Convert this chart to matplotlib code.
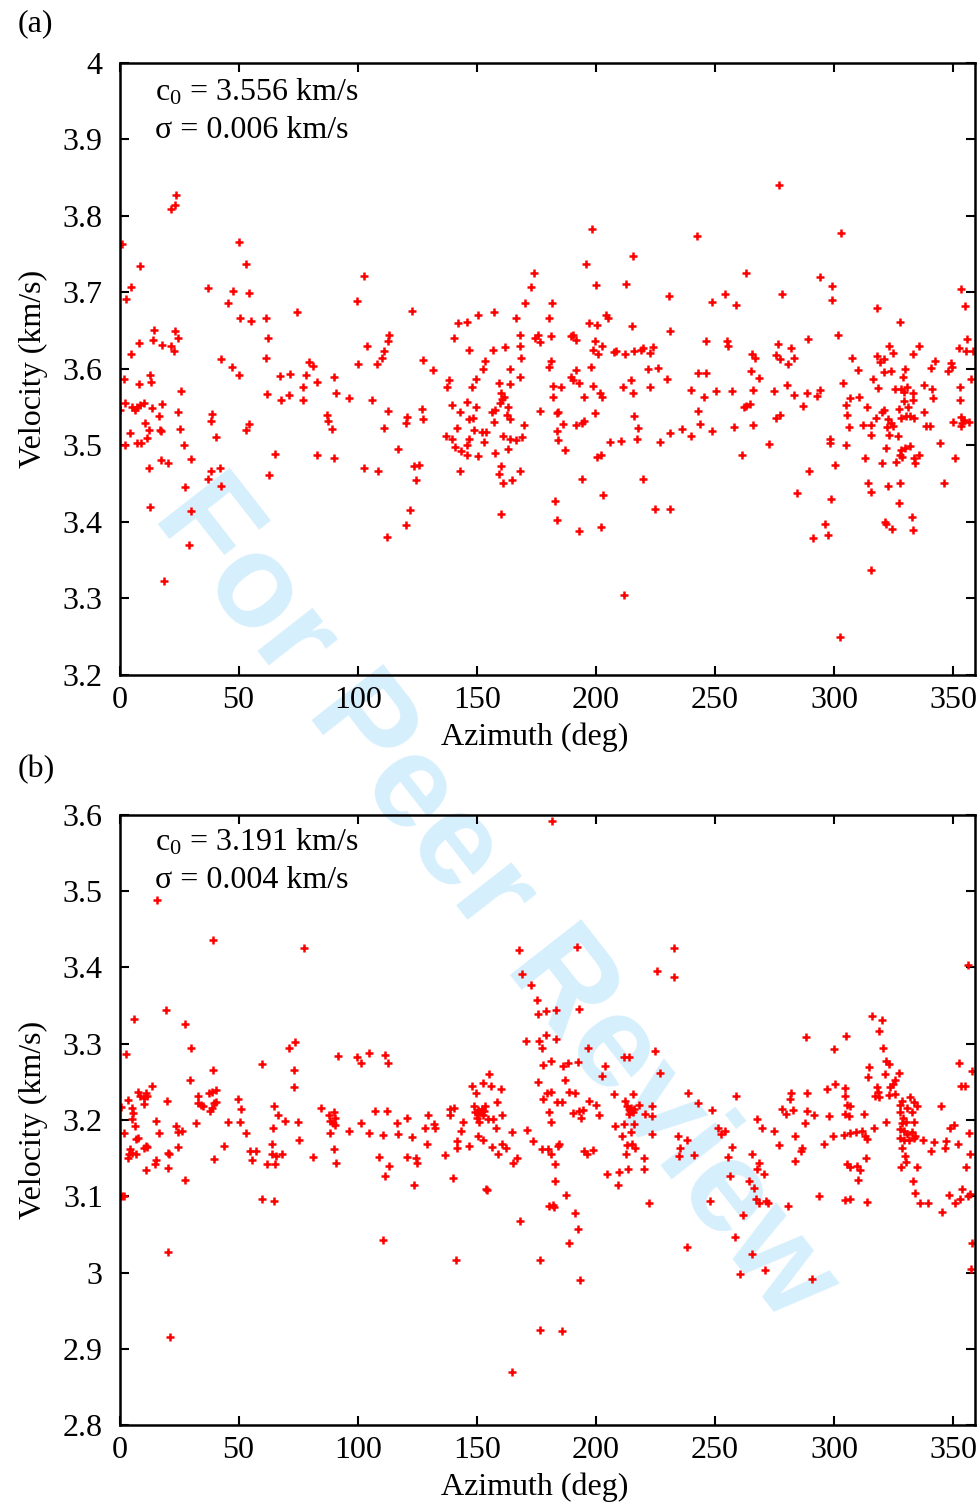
import numpy as np
import matplotlib
matplotlib.use("Agg")
import matplotlib.pyplot as plt

plt.rcParams['font.family'] = ['Liberation Serif', 'DejaVu Serif']
plt.rcParams['mathtext.fontset'] = 'custom'
plt.rcParams['mathtext.rm'] = 'Liberation Serif'
plt.rcParams['mathtext.it'] = 'Liberation Serif:italic'

# === data: panel (a) ===
az_a = [
    # 0-90 deg
    23.8, 23.1, 21.8, 1.0, 50.3, 53.2, 8.4, 5.0, 37.0, 47.5,
    54.3, 2.9, 45.5, 74.4, 50.7, 55.4, 61.6, 14.5, 23.1, 8.0,
    14.0, 18.0, 24.4, 21.4, 22.7, 5.0, 62.2, 42.4, 47.2, 50.1,
    61.3, 1.8, 12.7, 13.4, 8.1, 67.5, 71.4, 79.7, 81.2, 78.4,
    82.8, 25.6, 61.9, 68.0, 71.1, 76.9, 77.2, 2.5,
    0.4, 5.3, 6.7, 7.4, 8.4, 10.1, 13.7, 17.8, 16.5, 24.4,
    38.9, 38.4, 54.3, 52.9, 10.6, 4.6, 12.3, 16.9, 17.5, 25.3,
    40.6, 87.2, 87.4, 2.1, 7.4, 8.9, 11.5, 27.0, 17.5,
    20.3, 30.0, 12.2, 65.2, 82.9, 38.6, 42.3, 37.2, 42.8,
    62.9, 27.6, 13.0, 30.1, 29.3, 18.7,
    # 90-180 deg
    102.6, 99.6, 122.9, 173.9, 172.7, 170.4, 157.2, 150.3, 142.1, 145.7,
    166.3, 140.4, 146.7, 157.0, 161.7, 113.1, 112.8, 104.1, 111.2, 110.4,
    108.3, 100.3, 127.5, 131.7, 153.4, 152.4, 163.8, 168.1, 168.0, 168.7,
    168.3, 174.4, 175.8, 176.7, 90.0, 90.9, 96.4, 106.2, 138.4, 137.4,
    149.5, 147.8, 159.3, 163.9, 139.5, 143.0, 145.8, 149.8, 146.7, 148.6,
    157.6, 156.5, 160.0, 160.4, 161.4, 159.6, 163.3, 162.8, 164.1, 157.3,
    169.9, 176.7, 112.8, 120.5, 120.2, 127.1, 127.4, 111.1, 89.4, 141.5,
    137.0, 139.5, 140.7, 143.3, 145.7, 146.8, 148.9, 152.1, 153.8, 153.0,
    145.7, 150.7, 157.6, 160.8, 164.1, 166.4, 168.8, 163.3, 90.0, 117.0,
    102.8, 108.4, 123.7, 125.7, 124.4, 142.8, 160.1, 159.4, 161.1, 164.6,
    168.1, 121.8, 120.2, 112.4, 160.0,
    # 180-270 deg
    198.3, 242.4, 215.7, 195.8, 263.0, 199.9, 212.8, 230.8, 254.1, 248.7,
    258.7, 181.7, 180.4, 204.1, 205.1, 196.9, 200.4, 215.1, 181.2, 189.4,
    190.3, 191.6, 231.2, 199.6, 202.5, 198.7, 200.7, 207.4, 208.4, 212.1,
    215.8, 219.1, 219.9, 223.8, 222.8, 246.2, 255.2, 255.3, 265.4, 266.8,
    181.0, 180.5, 191.5, 197.9, 222.0, 226.2, 230.0, 243.0, 246.1, 265.3,
    268.4, 189.4, 190.2, 192.9, 182.2, 185.2, 182.2, 195.2, 198.6, 201.8,
    202.4, 211.2, 214.7, 215.7, 222.7, 240.1, 245.5, 250.6, 257.2, 266.1,
    184.2, 183.5, 199.7, 216.0, 243.0, 263.2, 262.3, 264.6, 186.3, 183.8,
    191.5, 194.1, 195.2, 217.7, 243.6, 236.0, 231.1, 240.1, 248.6, 258.1,
    265.8, 184.0, 187.0, 205.9, 210.5, 217.2, 226.8, 200.3, 202.1, 261.2,
    194.0, 219.9, 182.8, 203.1, 224.7, 231.1, 183.6, 192.9, 202.1, 211.8,
    # 270-360 deg
    276.9, 302.9, 293.9, 299.3, 278.3, 299.3, 353.2, 355.0, 318.0, 327.7,
    301.5, 288.9, 276.3, 281.8, 355.7, 275.7, 277.3, 283.2, 280.8, 307.7,
    323.2, 324.6, 335.5, 333.0, 318.2, 319.3, 320.8, 352.6, 355.2, 358.2,
    310.1, 321.1, 323.8, 329.8, 342.4, 340.9, 348.9, 349.4, 348.0, 357.7,
    274.9, 280.1, 283.2, 288.5, 292.8, 294.2, 303.6, 316.2, 318.5,
    328.8, 325.6, 328.3, 330.5, 329.5, 333.2, 337.6, 341.3, 341.4, 352.9,
    352.8, 286.8, 305.0, 306.8, 310.3, 313.8, 329.5, 333.3, 327.1, 331.2,
    320.8, 320.1, 275.5, 277.1, 305.4, 306.4, 312.3, 315.4, 315.4, 317.5,
    322.7, 324.1, 322.2, 324.8, 323.2, 326.7, 328.1, 330.4, 331.8, 333.7,
    337.6, 338.5, 340.3, 349.8, 353.1, 353.8, 354.7, 356.8, 353.1, 272.7,
    298.2, 298.4, 305.2, 322.0, 328.1, 329.8, 331.8, 327.6, 328.7, 335.5,
    333.4, 334.1, 325.9, 320.1, 313.0, 344.5, 350.7, 289.3, 300.3, 314.4,
    315.4, 322.5, 327.6, 327.4, 346.3, 284.3, 298.6, 332.9, 321.4, 322.0,
    324.3, 333.3, 296.3, 297.3, 291.0, 315.5, 302.6,
]
vel_a = [
    3.827, 3.815, 3.809, 3.763, 3.766, 3.737, 3.734, 3.707, 3.706, 3.702,
    3.699, 3.692, 3.686, 3.674, 3.667, 3.663, 3.666, 3.651, 3.650, 3.634,
    3.638, 3.631, 3.640, 3.630, 3.624, 3.620, 3.640, 3.613, 3.603, 3.592,
    3.614, 3.587, 3.592, 3.583, 3.580, 3.591, 3.594, 3.609, 3.604, 3.592,
    3.583, 3.571, 3.567, 3.560, 3.566, 3.576, 3.560, 3.556,
    3.546, 3.550, 3.547, 3.550, 3.553, 3.556, 3.549, 3.554, 3.539, 3.544,
    3.541, 3.532, 3.528, 3.520, 3.530, 3.516, 3.520, 3.520, 3.519, 3.522,
    3.511, 3.540, 3.532, 3.500, 3.503, 3.503, 3.510, 3.500, 3.481,
    3.477, 3.482, 3.470, 3.489, 3.488, 3.466, 3.470, 3.456, 3.447,
    3.461, 3.446, 3.420, 3.414, 3.370, 3.323,
    3.722, 3.689, 3.676, 3.726, 3.707, 3.686, 3.675, 3.670, 3.660, 3.661,
    3.666, 3.641, 3.625, 3.625, 3.629, 3.644, 3.637, 3.630, 3.624, 3.615,
    3.607, 3.607, 3.612, 3.599, 3.610, 3.600, 3.600, 3.644, 3.630, 3.615,
    3.589, 3.640, 3.644, 3.635, 3.590, 3.569, 3.562, 3.559, 3.586, 3.577,
    3.587, 3.577, 3.582, 3.581, 3.553, 3.544, 3.557, 3.550, 3.534, 3.536,
    3.547, 3.544, 3.569, 3.561, 3.563, 3.556, 3.550, 3.540, 3.534, 3.531,
    3.527, 3.545, 3.545, 3.537, 3.529, 3.548, 3.535, 3.523, 3.521, 3.523,
    3.513, 3.508, 3.498, 3.493, 3.501, 3.508, 3.520, 3.517, 3.518, 3.505,
    3.488, 3.486, 3.490, 3.512, 3.509, 3.507, 3.511, 3.495, 3.484, 3.495,
    3.470, 3.467, 3.473, 3.474, 3.455, 3.467, 3.473, 3.463, 3.451, 3.455,
    3.467, 3.416, 3.396, 3.380, 3.410,
    3.783, 3.774, 3.748, 3.737, 3.726, 3.710, 3.711, 3.695, 3.698, 3.687,
    3.684, 3.686, 3.666, 3.671, 3.666, 3.660, 3.658, 3.656, 3.643, 3.643,
    3.645, 3.638, 3.650, 3.637, 3.630, 3.625, 3.620, 3.622, 3.624, 3.619,
    3.623, 3.625, 3.627, 3.629, 3.621, 3.637, 3.637, 3.630, 3.620, 3.614,
    3.611, 3.602, 3.599, 3.603, 3.600, 3.601, 3.587, 3.595, 3.595, 3.598,
    3.588, 3.589, 3.585, 3.582, 3.578, 3.576, 3.563, 3.563, 3.578, 3.568,
    3.564, 3.577, 3.585, 3.569, 3.577, 3.573, 3.563, 3.571, 3.571, 3.572,
    3.544, 3.542, 3.543, 3.539, 3.545, 3.551, 3.550, 3.554, 3.528, 3.519,
    3.527, 3.530, 3.532, 3.523, 3.528, 3.522, 3.516, 3.512, 3.519, 3.524,
    3.527, 3.507, 3.494, 3.505, 3.506, 3.508, 3.505, 3.485, 3.488, 3.487,
    3.456, 3.456, 3.427, 3.435, 3.417, 3.417, 3.403, 3.388, 3.394, 3.305,
    3.840, 3.778, 3.720, 3.708, 3.698, 3.690, 3.704, 3.682, 3.680, 3.661,
    3.644, 3.639, 3.633, 3.628, 3.639, 3.618, 3.613, 3.614, 3.607, 3.614,
    3.630, 3.621, 3.630, 3.620, 3.617, 3.609, 3.613, 3.627, 3.623, 3.623,
    3.599, 3.596, 3.597, 3.600, 3.610, 3.601, 3.608, 3.603, 3.598, 3.587,
    3.571, 3.579, 3.566, 3.568, 3.565, 3.572, 3.582, 3.587, 3.575,
    3.589, 3.574, 3.574, 3.577, 3.570, 3.568, 3.579, 3.574, 3.562, 3.577,
    3.560, 3.551, 3.553, 3.562, 3.564, 3.550, 3.558, 3.560, 3.548, 3.550,
    3.546, 3.544, 3.536, 3.540, 3.540, 3.524, 3.527, 3.527, 3.514, 3.536,
    3.535, 3.530, 3.524, 3.525, 3.514, 3.512, 3.536, 3.539, 3.539, 3.536,
    3.544, 3.525, 3.526, 3.531, 3.537, 3.530, 3.533, 3.531, 3.525, 3.502,
    3.509, 3.503, 3.500, 3.497, 3.494, 3.497, 3.499, 3.488, 3.485, 3.487,
    3.483, 3.477, 3.479, 3.477, 3.483, 3.503, 3.484, 3.467, 3.474, 3.451,
    3.439, 3.447, 3.451, 3.425, 3.451, 3.438, 3.430, 3.407, 3.400, 3.397,
    3.391, 3.390, 3.397, 3.383, 3.379, 3.337, 3.250,
]

# === data: panel (b) ===
az_b = [
    # 0-90 deg
    15.7, 39.1, 77.5, 19.5, 6.1, 27.4, 30.2, 2.7, 71.3, 73.7,
    73.3, 73.3, 59.8, 39.4, 29.7, 13.5, 3.4, 7.8, 8.6, 10.1,
    11.0, 11.7, 10.1, 0.5, 5.4, 5.8, 5.1, 6.5, 1.9, 15.2,
    16.4, 20.1, 32.1, 33.0, 33.1, 34.4, 35.2, 37.7, 38.8, 40.4,
    38.1, 39.5, 40.5, 38.8, 45.7, 49.6, 51.0, 53.1, 50.7, 23.6,
    24.7, 26.1, 24.7, 44.0, 39.7, 11.0, 10.3, 11.7, 4.4, 3.8,
    5.4, 6.8, 6.8, 7.9, 3.7, 15.2, 15.0, 20.5, 20.9, 20.5,
    11.0, 27.6, 54.8, 57.2, 55.5, 62.1, 63.9, 65.7, 66.4, 65.0,
    64.6, 64.0, 65.3, 68.4, 69.5, 75.0, 75.5, 81.4, 84.5, 87.8,
    88.4, 89.8, 88.3, 89.9, 0.9, 1.9, 59.8, 64.7, 20.4, 21.1,
    # 90-180 deg
    167.8, 168.8, 172.7, 175.3, 175.5, 179.1, 170.6, 176.3, 177.2, 177.6,
    179.1, 175.9, 177.6, 179.4, 91.9, 99.6, 101.4, 104.8, 111.5, 112.8,
    155.2, 148.0, 149.7, 152.5, 155.9, 160.2, 158.4, 90.1, 90.5, 90.6,
    96.2, 101.4, 104.6, 110.5, 107.3, 112.3, 116.7, 117.0, 120.7, 122.6,
    129.4, 128.3, 132.1, 132.5, 129.0, 138.7, 140.5, 138.7, 144.4, 143.3,
    141.5, 141.5, 146.9, 148.9, 150.7, 153.6, 150.0, 151.4, 152.8, 154.9,
    156.7, 158.1, 160.5, 150.3, 152.8, 156.4, 159.1, 160.5, 162.3, 164.7,
    165.0, 166.8, 171.1, 173.4, 177.2, 90.9, 109.0, 113.3, 111.5, 120.6,
    124.5, 125.1, 123.7, 136.6, 139.9, 153.8, 154.3, 168.2, 180.5, 110.5,
    141.3, 176.5, 176.6, 164.7, 150.7, 152.1, 149.3, 153.1, 151.1,
    # 180-270 deg
    181.5, 192.0, 232.9, 225.5, 232.6, 183.3, 192.8, 183.3, 196.6, 211.7,
    213.7, 224.8, 203.8, 202.6, 227.0, 181.1, 186.0, 188.1, 192.4, 187.2,
    181.1, 188.8, 191.3, 183.6, 185.7, 196.9, 200.1, 201.4, 190.2, 192.7,
    194.5, 193.7, 180.4, 181.1, 207.5, 215.7, 212.3, 213.0, 214.4, 215.4,
    217.9, 220.7, 223.5, 223.5, 238.6, 242.8, 248.7, 258.9, 267.5, 208.0,
    211.9, 215.8, 214.8, 210.9, 212.9, 215.1, 216.5, 212.7, 223.5, 234.4,
    238.3, 235.4, 234.8, 241.3, 251.2, 252.6, 254.3, 257.1, 255.4, 265.6,
    268.3, 267.7, 256.4, 264.4, 266.3, 267.3, 268.3, 184.0, 184.7, 195.2,
    196.2, 198.6, 180.1, 181.1, 182.9, 183.0, 204.6, 209.5, 213.3, 220.0,
    220.3, 209.4, 187.4, 182.1, 182.5, 191.3, 192.3, 188.6, 222.2, 247.9,
    261.6, 258.2, 238.1, 265.5, 260.7, 193.3, 185.7, 213.7, 214.8, 214.0,
    216.2,
    # 270-360 deg
    356.1, 315.9, 320.1, 318.7, 320.7, 321.6, 322.9, 321.2, 314.5, 314.1,
    327.1, 325.4, 324.7, 323.6, 322.9, 325.7, 317.9, 318.3, 317.3, 318.8,
    288.2, 305.0, 300.1, 352.3, 358.0, 353.3, 355.0, 300.6, 297.1, 304.4,
    304.6, 305.3, 306.8, 288.5, 281.9, 281.3, 278.0, 279.9, 282.9, 288.7,
    291.4, 287.6, 298.0, 304.4, 306.2, 312.7, 321.9, 269.8, 274.7, 276.7,
    283.7, 295.6, 299.7, 304.0, 306.8, 309.3, 311.7, 313.1, 313.8, 316.6,
    286.6, 286.2, 283.7, 270.4, 313.4, 305.4, 306.5, 309.5, 310.7,
    310.2, 304.7, 306.8, 293.5, 280.6, 271.5, 272.1, 313.7, 327.5, 328.5,
    331.7, 333.7, 334.8, 327.5, 328.9, 330.6, 332.7, 328.5, 330.0, 333.4,
    327.8, 329.2, 330.6, 332.7, 334.1, 327.5, 329.2, 331.3, 333.4, 328.5,
    329.6, 330.0, 328.1, 334.8, 337.3, 341.8, 340.7, 347.0, 346.7, 348.8,
    350.2, 352.2, 356.6, 344.7, 357.2, 355.5, 333.1, 334.1, 336.2, 339.3,
    345.3, 348.1, 350.6, 352.7, 353.7, 356.1, 357.0, 358.0, 357.6, 271.2,
    290.8,
]
vel_b = [
    3.489, 3.436, 3.425, 3.344, 3.333, 3.326, 3.295, 3.287, 3.294, 3.302,
    3.265, 3.243, 3.273, 3.265, 3.252, 3.245, 3.226, 3.237, 3.232, 3.229,
    3.236, 3.232, 3.221, 3.217, 3.216, 3.209, 3.201, 3.192, 3.183, 3.199,
    3.183, 3.225, 3.196, 3.232, 3.222, 3.220, 3.218, 3.235, 3.237, 3.239,
    3.212, 3.222, 3.223, 3.216, 3.197, 3.228, 3.215, 3.183, 3.197, 3.192,
    3.184, 3.185, 3.165, 3.166, 3.149, 3.166, 3.163, 3.164, 3.162, 3.155,
    3.157, 3.155, 3.175, 3.177, 3.150, 3.148, 3.142, 3.157, 3.155, 3.137,
    3.135, 3.121, 3.160, 3.160, 3.148, 3.142, 3.156, 3.153, 3.207, 3.219,
    3.190, 3.168, 3.142, 3.156, 3.199, 3.198, 3.174, 3.152, 3.216, 3.207,
    3.199, 3.196, 3.183, 3.162, 3.100, 3.100, 3.096, 3.094, 3.027, 2.915,
    3.423, 3.392, 3.377, 3.358, 3.339, 3.343, 3.303, 3.303, 3.294, 3.272,
    3.311, 3.250, 3.228, 3.235, 3.284, 3.282, 3.275, 3.288, 3.285, 3.275,
    3.260, 3.245, 3.236, 3.249, 3.245, 3.241, 3.223, 3.211, 3.203, 3.193,
    3.186, 3.196, 3.183, 3.180, 3.212, 3.212, 3.196, 3.182, 3.203, 3.178,
    3.206, 3.190, 3.195, 3.190, 3.169, 3.215, 3.216, 3.207, 3.197, 3.186,
    3.172, 3.163, 3.166, 3.218, 3.213, 3.218, 3.203, 3.211, 3.206, 3.201,
    3.201, 3.189, 3.206, 3.179, 3.174, 3.164, 3.155, 3.169, 3.163, 3.184,
    3.144, 3.150, 3.187, 3.173, 3.162, 3.144, 3.152, 3.140, 3.126, 3.152,
    3.150, 3.144, 3.115, 3.154, 3.124, 3.110, 3.108, 3.068, 3.087, 3.043,
    3.016, 3.016, 2.925, 2.869, 3.208, 3.215, 3.210, 3.212, 3.198,
    3.592, 3.427, 3.425, 3.396, 3.387, 3.344, 3.345, 3.306, 3.294, 3.283,
    3.283, 3.291, 3.271, 3.258, 3.261, 3.277, 3.271, 3.275, 3.276, 3.252,
    3.237, 3.237, 3.235, 3.223, 3.223, 3.225, 3.220, 3.207, 3.209, 3.212,
    3.213, 3.203, 3.210, 3.197, 3.234, 3.234, 3.225, 3.218, 3.212, 3.210,
    3.220, 3.208, 3.219, 3.205, 3.236, 3.222, 3.213, 3.232, 3.201, 3.192,
    3.195, 3.195, 3.184, 3.179, 3.167, 3.169, 3.163, 3.155, 3.181, 3.179,
    3.174, 3.163, 3.153, 3.154, 3.190, 3.182, 3.185, 3.164, 3.151, 3.155,
    3.144, 3.136, 3.126, 3.120, 3.111, 3.097, 3.091, 3.166, 3.168, 3.159,
    3.155, 3.161, 3.162, 3.155, 3.142, 3.120, 3.129, 3.132, 3.136, 3.136,
    3.150, 3.115, 3.102, 3.089, 3.086, 3.078, 3.057, 3.039, 3.091, 3.094,
    3.075, 3.046, 3.034, 3.024, 2.998, 2.990, 2.923, 3.214, 3.216, 3.208,
    3.214,
    3.403, 3.336, 3.331, 3.317, 3.294, 3.277, 3.273, 3.260, 3.269, 3.256,
    3.261, 3.252, 3.247, 3.243, 3.233, 3.234, 3.243, 3.237, 3.232, 3.230,
    3.309, 3.310, 3.293, 3.275, 3.264, 3.245, 3.245, 3.247, 3.241, 3.242,
    3.231, 3.220, 3.218, 3.236, 3.236, 3.228, 3.214, 3.208, 3.213, 3.212,
    3.206, 3.196, 3.205, 3.208, 3.205, 3.208, 3.198, 3.190, 3.186, 3.167,
    3.179, 3.169, 3.179, 3.180, 3.183, 3.184, 3.186, 3.179, 3.175, 3.190,
    3.163, 3.159, 3.146, 3.129, 3.150, 3.142, 3.139, 3.140, 3.135,
    3.121, 3.095, 3.096, 3.100, 3.087, 3.094, 3.091, 3.093, 3.220, 3.225,
    3.230, 3.224, 3.218, 3.211, 3.203, 3.216, 3.211, 3.196, 3.198, 3.198,
    3.188, 3.186, 3.182, 3.184, 3.179, 3.176, 3.174, 3.174, 3.177, 3.163,
    3.153, 3.145, 3.138, 3.138, 3.174, 3.171, 3.159, 3.172, 3.163, 3.189,
    3.193, 3.169, 3.183, 3.219, 3.155, 3.138, 3.120, 3.104, 3.091, 3.091,
    3.080, 3.102, 3.091, 3.096, 3.110, 3.100, 3.103, 3.039, 3.005, 3.003,
    2.991,
]

panel_labels = ["(a)", "(b)"]
c0_text = [r"c$_{0}$ = 3.556 km/s", r"c$_{0}$ = 3.191 km/s"]
sigma_text = ["σ = 0.006 km/s", "σ = 0.004 km/s"]
ylims = [(3.2, 4.0), (2.8, 3.6)]
xticks = [0, 50, 100, 150, 200, 250, 300, 350]

FS = 23

fig = plt.figure(figsize=(9.79, 15.07), dpi=100)

# watermark behind everything
fig.text(0.506, 0.403, "For Peer Review", rotation=-52, fontsize=95,
         color="#d6effc", fontweight="bold", family="Liberation Sans",
         ha="center", va="center", zorder=-1)

ax_a = fig.add_axes([0.1221, 0.5521, 0.8734, 0.4061])
ax_b = fig.add_axes([0.1221, 0.0544, 0.8734, 0.4048])

data = [(az_a, vel_a), (az_b, vel_b)]
text_y = [(0.953, 0.889), (0.956, 0.893)]
for i, ax in enumerate([ax_a, ax_b]):
    az, vel = data[i]
    ax.set_facecolor("none")
    ax.plot(az, vel, linestyle="none", marker="+", color="red",
            markersize=6.2, markeredgewidth=1.8)
    ax.set_xlim(0, 359)
    ax.set_ylim(*ylims[i])
    ax.set_xticks(xticks)
    ax.set_yticks(np.arange(ylims[i][0], ylims[i][1] + 0.001, 0.1))
    ax.yaxis.set_major_formatter(plt.FormatStrFormatter("%g"))
    ax.tick_params(direction="in", length=6.5, width=1.5, labelsize=FS,
                   top=True, right=True)
    ax.tick_params(axis="y", pad=12)
    ax.tick_params(axis="x", pad=8)
    for sp in ax.spines.values():
        sp.set_linewidth(1.8)
    ax.set_xlabel("Azimuth (deg)", fontsize=FS, labelpad=5)
    ax.xaxis.label.set_x(0.485)
    ax.set_ylabel("Velocity (km/s)", fontsize=FS, labelpad=11)
    ax.text(0.0415, text_y[i][0], c0_text[i], transform=ax.transAxes,
            fontsize=FS, va="center", ha="left")
    ax.text(0.0415, text_y[i][1], sigma_text[i], transform=ax.transAxes,
            fontsize=FS, va="center", ha="left")

fig.text(18 / 979, 1 - 24 / 1507, panel_labels[0], fontsize=FS, va="center")
fig.text(18 / 979, 1 - 770 / 1507, panel_labels[1], fontsize=FS, va="center")

fig.savefig("out.png", dpi=100)
